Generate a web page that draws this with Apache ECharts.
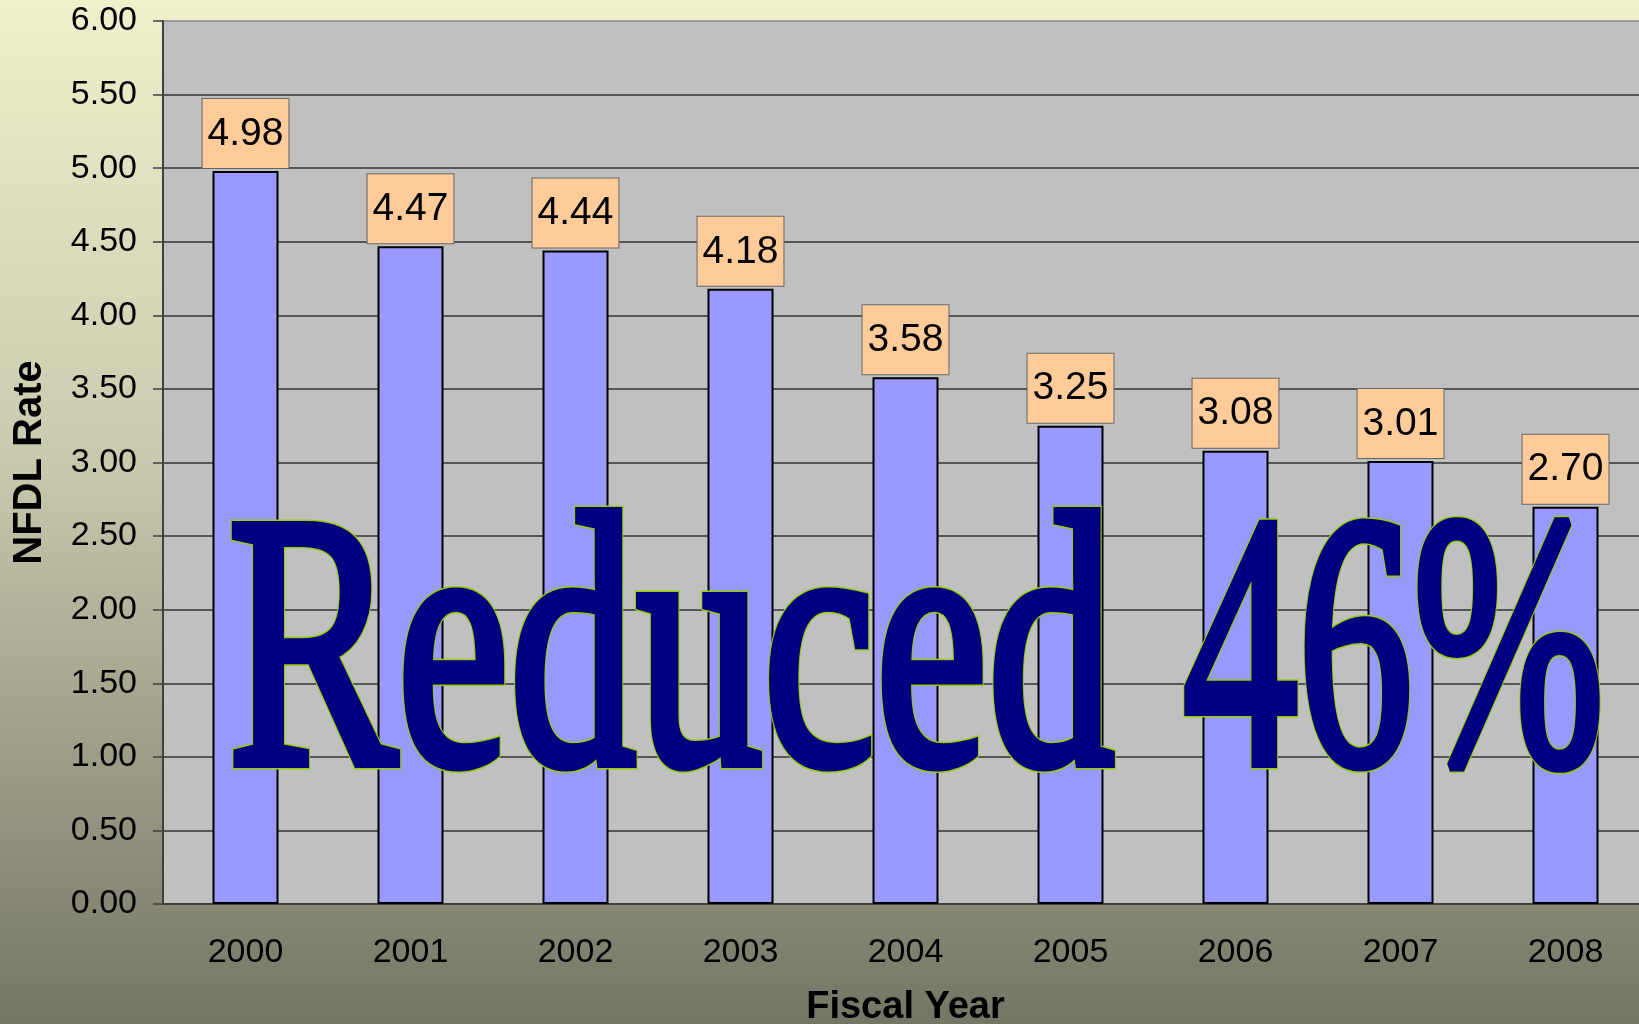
<!DOCTYPE html>
<html>
<head>
<meta charset="utf-8">
<script src="https://cdn.jsdelivr.net/npm/echarts@6/dist/echarts.min.js"></script>
<style>
  html, body { margin: 0; padding: 0; }
  #chart { width: 1639px; height: 1024px; }
</style>
</head>
<body>
<div id="chart"></div>
<script>
const categories = ['2000', '2001', '2002', '2003', '2004', '2005', '2006', '2007', '2008'];
const nfdlRate = [4.98, 4.47, 4.44, 4.18, 3.58, 3.25, 3.08, 3.01, 2.70];
const yAxisTitle = 'NFDL Rate';
const xAxisTitle = 'Fiscal Year';
const overlayWord = 'Reduced';
const overlayPercent = '46%';

const chart = echarts.init(document.getElementById('chart'), null, { renderer: 'canvas' });

const gridColors = [];
for (let i = 0; i < 12; i++) gridColors.push('#333333');
gridColors.push('#8a8a8a');

const FONT = '362px "Liberation Serif"';
// outline layer (yellow-green ring), then navy body layer on top
function overlayPieces(text, x, y, sx) {
  return [{
    type: 'text', x: x, y: y, scaleX: sx, z: 100,
    style: {
      text: text, x: 0, y: 0, align: 'left', verticalAlign: 'middle',
      font: FONT, fill: '#000080', stroke: '#99CC00', lineWidth: 13, lineJoin: 'round'
    }
  }, {
    type: 'text', x: x, y: y, scaleX: sx, z: 101,
    style: {
      text: text, x: 0, y: 0, align: 'left', verticalAlign: 'middle',
      font: FONT, fill: '#000080', stroke: '#000080', lineWidth: 10, lineJoin: 'round'
    }
  }];
}

chart.setOption({
  animation: false,
  backgroundColor: {
    type: 'linear', x: 0, y: 0, x2: 0, y2: 1,
    colorStops: [
      { offset: 0, color: '#F0F0CD' },
      { offset: 0.45, color: '#C9C9AE' },
      { offset: 1, color: '#757565' }
    ]
  },
  grid: {
    left: 163, top: 21, right: -9, bottom: 120,
    outerBoundsMode: 'none',
    containLabel: false,
    show: true, backgroundColor: '#C0C0C0', borderWidth: 0
  },
  xAxis: {
    type: 'category',
    data: categories,
    name: xAxisTitle,
    nameLocation: 'middle',
    nameGap: 85,
    nameTextStyle: { fontFamily: 'Liberation Sans', fontWeight: 'bold', fontSize: 38, color: '#000' },
    axisLine: { lineStyle: { color: '#404040', width: 2 } },
    axisTick: { length: 10, lineStyle: { color: '#404040', width: 1.5 } },
    axisLabel: { fontFamily: 'Liberation Sans', fontSize: 34, color: '#000', margin: 32 }
  },
  yAxis: {
    type: 'value',
    min: 0, max: 6, interval: 0.5,
    name: yAxisTitle,
    nameLocation: 'middle',
    nameGap: 113,
    nameTextStyle: { fontFamily: 'Liberation Sans', fontWeight: 'bold', fontSize: 40, color: '#000' },
    axisLine: { show: true, lineStyle: { color: '#404040', width: 2 } },
    axisTick: { show: true, length: 10, lineStyle: { color: '#404040', width: 1.5 } },
    axisLabel: {
      fontFamily: 'Liberation Sans', fontSize: 34, color: '#000', margin: 26,
      formatter: v => v.toFixed(2)
    },
    splitLine: { show: true, lineStyle: { color: gridColors, width: 1.5 } }
  },
  series: [{
    type: 'bar',
    data: nfdlRate,
    barWidth: '40%',
    itemStyle: { color: '#9999FF', borderColor: '#000', borderWidth: 2 },
    label: {
      show: true,
      position: 'top',
      distance: 3,
      formatter: p => p.value.toFixed(2),
      fontFamily: 'Liberation Sans',
      fontSize: 39,
      lineHeight: 40,
      color: '#000',
      backgroundColor: '#FFCC99',
      borderColor: '#666666',
      borderWidth: 1,
      padding: [15, 5, 14, 5]
    }
  }],
  graphic: overlayPieces(overlayWord, 228, 668, 0.70)
    .concat(overlayPieces(overlayPercent, 1183, 668, 0.635))
});
</script>
</body>
</html>
